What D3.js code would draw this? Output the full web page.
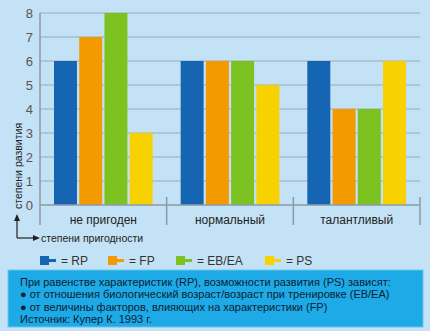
<!DOCTYPE html>
<html><head><meta charset="utf-8">
<script src="https://cdn.jsdelivr.net/npm/d3@7"></script>
<style>
html,body{margin:0;padding:0;background:#c4e2f6;}
svg{display:block;}
text{font-family:"Liberation Sans",Arial,sans-serif;}
</style></head><body>
<script>
const categories = ["не пригоден", "нормальный", "талантливый"];
const seriesKeys = ["RP", "FP", "EB/EA", "PS"];
const seriesLabels = ["= RP", "= FP", "= EB/EA", "= PS"];
const valuesRP = [6, 6, 6];
const valuesFP = [7, 6, 4];
const valuesEBEA = [8, 6, 4];
const valuesPS = [3, 5, 6];
const yTicks = [0, 1, 2, 3, 4, 5, 6, 7, 8];
const colors = ["#1565b2", "#f29a00", "#7cc220", "#f7d200"];
const noteLines = [
  "При равенстве характеристик (RP), возможности развития (PS) зависят:",
  "● от отношения биологический возраст/возраст при тренировке (EB/EA)",
  "● от величины факторов, влияющих на характеристики (FP)",
  "Источник: Купер К. 1993 г."
];
const seriesValues = [valuesRP, valuesFP, valuesEBEA, valuesPS];

(function () {
const W = 430, H = 331;
const svg = d3.select("body").append("svg").attr("width", W).attr("height", H);
svg.append("rect").attr("width", W).attr("height", H).attr("fill", "#c4e2f6");

const pL = 40, pR = 420, pT = 13, pB = 205;
const x0 = d3.scaleBand().domain(categories).range([pL, pR]);
const bw = x0.bandwidth();
const x1 = d3.scaleBand().domain(seriesKeys).range([14, bw - 14]).paddingInner(0.09);
const y = d3.scaleLinear().domain([0, 8]).range([pB, pT]);

// grid
svg.append("g").selectAll("line").data(yTicks.filter(d => d > 0)).join("line")
  .attr("x1", pL).attr("x2", pR)
  .attr("y1", d => y(d)).attr("y2", d => y(d))
  .attr("stroke", "#9aaab6").attr("stroke-width", 1);

// bars
const groups = svg.append("g").selectAll("g").data(categories).join("g")
  .attr("transform", c => `translate(${x0(c)},0)`);
groups.selectAll("rect").data((c, i) => seriesKeys.map((k, j) => ({k, v: seriesValues[j][i], j})))
  .join("rect")
  .attr("x", d => x1(d.k)).attr("width", x1.bandwidth())
  .attr("y", d => y(d.v)).attr("height", d => y(0) - y(d.v))
  .attr("fill", d => colors[d.j]);

// axes lines
const axisColor = "#8c9aa5";
svg.append("line").attr("x1", pL).attr("x2", pL).attr("y1", pT).attr("y2", 225)
  .attr("stroke", axisColor).attr("stroke-width", 1.5);
svg.append("line").attr("x1", pL).attr("x2", pR).attr("y1", pB).attr("y2", pB)
  .attr("stroke", axisColor).attr("stroke-width", 1.5);
svg.append("g").selectAll("line").data(categories).join("line")
  .attr("x1", c => x0(c) + bw).attr("x2", c => x0(c) + bw)
  .attr("y1", 197).attr("y2", 225)
  .attr("stroke", axisColor).attr("stroke-width", 1.5);

// y tick labels
svg.append("g").selectAll("text").data(yTicks).join("text")
  .attr("x", 33).attr("y", d => y(d)).attr("dy", "0.36em")
  .attr("text-anchor", "end").attr("font-size", 13).attr("fill", "#555")
  .text(d => d);

// category labels
svg.append("g").selectAll("text").data(categories).join("text")
  .attr("x", c => x0(c) + bw / 2).attr("y", 224)
  .attr("text-anchor", "middle").attr("font-size", 12).attr("fill", "#222")
  .text(c => c);

// axis titles
svg.append("text").attr("transform", "translate(22,209) rotate(-90)")
  .attr("font-size", 10.5).attr("fill", "#222").text("степени развития");
svg.append("text").attr("x", 41).attr("y", 241.5)
  .attr("font-size", 10.5).attr("fill", "#222").text("степени пригодности");
// arrows
const ar = svg.append("g").attr("stroke", "#222").attr("stroke-width", 1.2).attr("fill", "none");
ar.append("line").attr("x1", 17).attr("x2", 17).attr("y1", 238).attr("y2", 218);
ar.append("line").attr("x1", 17).attr("x2", 36).attr("y1", 238).attr("y2", 238);
svg.append("path").attr("d", "M17,214 L14,221 L20,221 Z").attr("fill", "#222");
svg.append("path").attr("d", "M40,238 L33,235 L33,241 Z").attr("fill", "#222");

// legend
const legX = [40, 108, 176, 265];
const leg = svg.append("g").selectAll("g").data(seriesKeys).join("g")
  .attr("transform", (d, i) => `translate(${legX[i]},256)`);
leg.append("rect").attr("x", 0).attr("y", 0).attr("width", 9).attr("height", 9)
  .attr("fill", (d, i) => colors[i]);
leg.append("rect").attr("x", 8).attr("y", 3).attr("width", 8).attr("height", 3)
  .attr("fill", (d, i) => colors[i]);
leg.append("text").attr("x", 21).attr("y", 8.5).attr("font-size", 12).attr("fill", "#333")
  .text((d, i) => seriesLabels[i]);

// note box
svg.append("rect").attr("x", 8).attr("y", 270).attr("width", 415).attr("height", 57)
  .attr("fill", "#1eaae6").attr("stroke", "#6cc6ee").attr("stroke-width", 1);
svg.append("g").selectAll("text").data(noteLines).join("text")
  .attr("x", 20).attr("y", (d, i) => 285.5 + i * 12.6)
  .attr("font-size", 11).attr("fill", "#0c2233")
  .text(d => d);
})();
</script>
</body></html>
